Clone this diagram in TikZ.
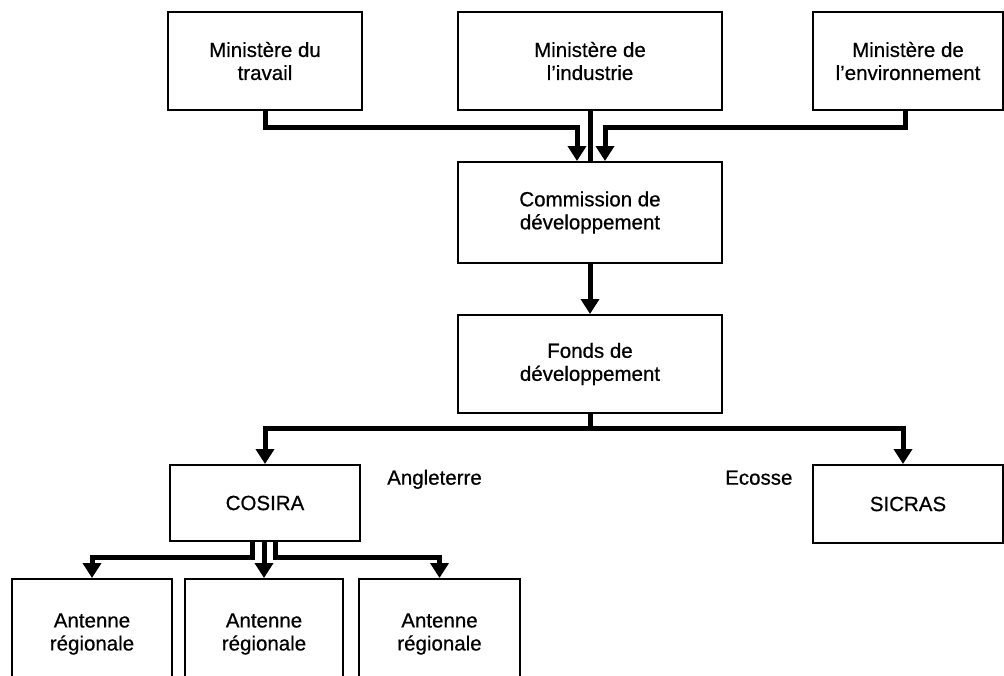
\documentclass[tikz,border=0pt]{standalone}
\usepackage{fontspec}
\setmainfont{Liberation Sans}
\newfontfamily\medfont{Liberation Sans}[FakeBold=0.6]
\usetikzlibrary{arrows.meta,calc}
\begin{document}
\begin{tikzpicture}[x=1pt,y=-1pt,
  box/.style={draw,line width=2pt,align=center,inner sep=0pt,font=\medfont\fontsize{20.5}{23}\selectfont},
  lbl/.style={inner sep=0pt,font=\medfont\fontsize{20.5}{23}\selectfont},
  conn/.style={line width=5pt,-{Triangle[width=18pt,length=15pt]}},
  bar/.style={line width=5pt}
]
\useasboundingbox (0,0) rectangle (1004,675);
\clip (0,0) rectangle (1004,675);

% top row
\node[box,minimum width=194pt,minimum height=98pt] (t1) at (265,61) {Ministère du\\travail};
\node[box,minimum width=264pt,minimum height=98pt] (t2) at (590,61) {Ministère de\\l’industrie};
\node[box,minimum width=190pt,minimum height=98pt] (t3) at (908,61) {Ministère de\\l’environnement};

% central column
\node[box,minimum width=264pt,minimum height=101pt] (com) at (590,212.5) {Commission de\\développement};
\node[box,minimum width=264pt,minimum height=98pt] (fonds) at (590,364) {Fonds de\\développement};

% second level
\node[box,minimum width=190pt,minimum height=76pt] (cosira) at (265,503) {COSIRA};
\node[box,minimum width=190pt,minimum height=78pt] (sicras) at (908,504) {SICRAS};
\node[lbl,anchor=mid west] (ang) at (387,482) {Angleterre};
\node[lbl,anchor=mid west] (eco) at (725,482) {Ecosse};

% antennes
\node[box,minimum width=160pt,minimum height=110pt] (a1) at (92,634) {Antenne\\régionale};
\node[box,minimum width=158pt,minimum height=110pt] (a2) at (264,634) {Antenne\\régionale};
\node[box,minimum width=161pt,minimum height=110pt] (a3) at (439.5,634) {Antenne\\régionale};

% bus levels
\coordinate (b1) at (0,127);
\coordinate (b2) at (590,428);
\coordinate (b3) at (0,557);

% top connectors
\coordinate (t3s) at ([xshift=-3pt]t3.south);
\draw[conn] (t1.south) -- (t1.south |- b1) -| ([xshift=-13pt]com.north);
\draw[bar] (t2.south) -- (com.north);
\draw[conn] (t3s) -- (t3s |- b1) -| ([xshift=15pt]com.north);

% commission -> fonds
\draw[conn] (com.south) -- (fonds.north);

% fonds -> cosira / sicras
\draw[conn] (fonds.south) -- (b2) -| (cosira.north);
\draw[conn] (b2) -| ([xshift=-5pt]sicras.north);

% cosira -> antennes
\coordinate (cl) at ([xshift=-13pt]cosira.south);
\coordinate (cr) at ([xshift=10pt]cosira.south);
\draw[conn] (cl) -- (cl |- b3) -| (a1.north);
\draw[conn] (cosira.south -| a2.north) -- (a2.north);
\draw[conn] (cr) -- (cr |- b3) -| (a3.north);
\end{tikzpicture}
\end{document}
